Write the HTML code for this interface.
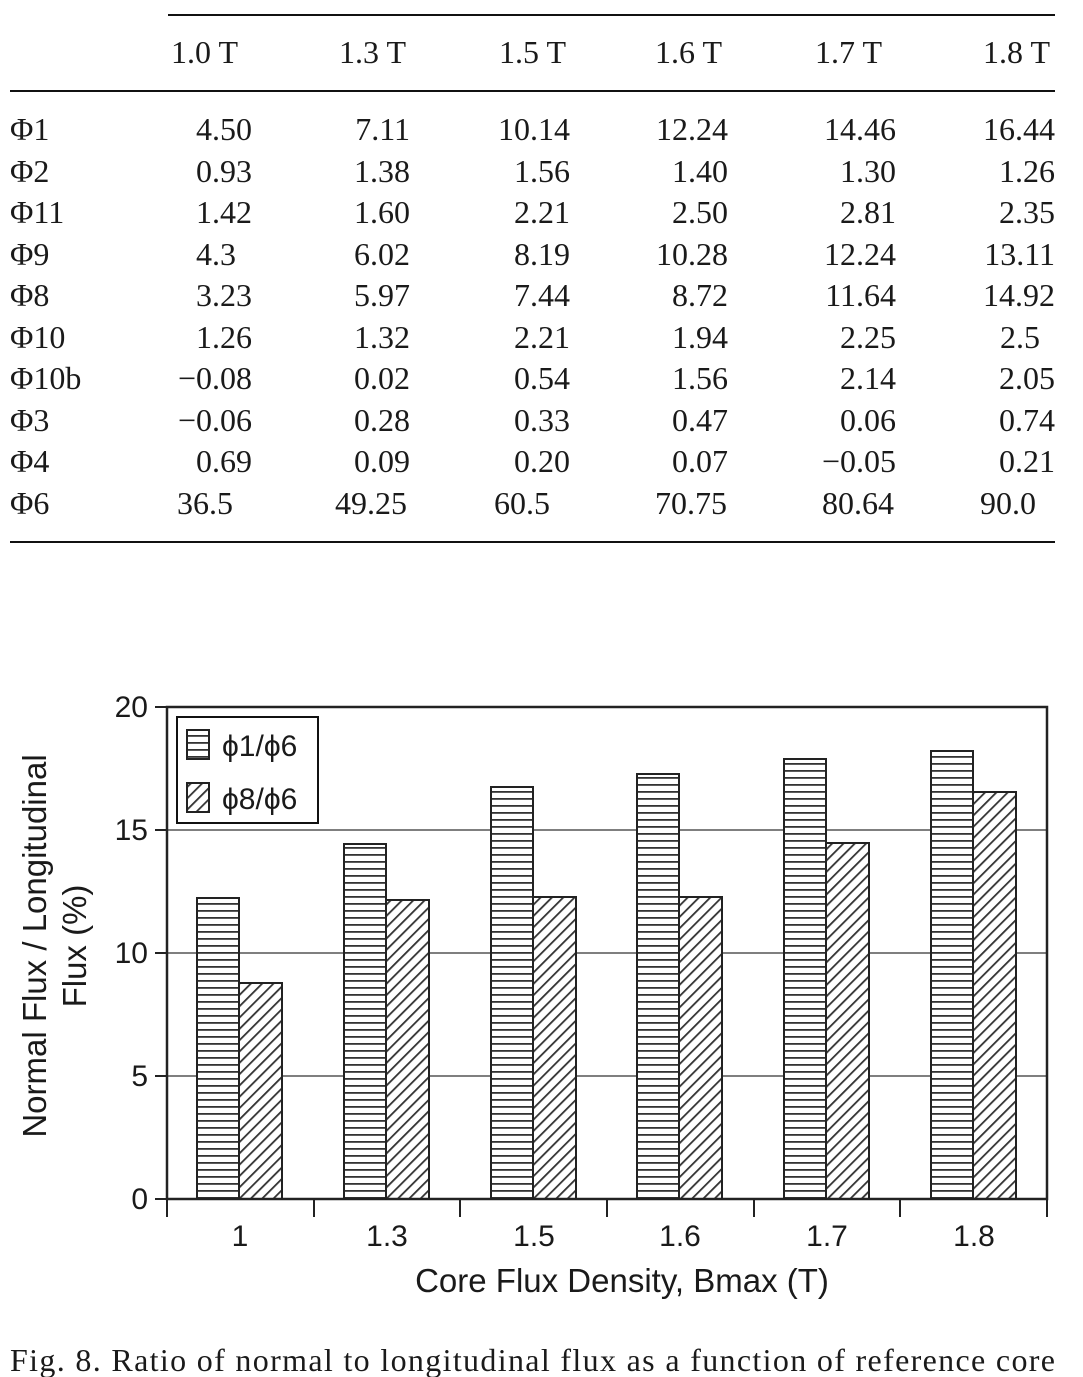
<!DOCTYPE html>
<html><head><meta charset="utf-8"><style>body{margin:0;background:#fff}svg{display:block}</style></head>
<body>
<svg width="1083" height="1377" viewBox="0 0 1083 1377" xmlns="http://www.w3.org/2000/svg">
<defs>
<pattern id="hz" width="7" height="7" patternUnits="userSpaceOnUse"><rect width="7" height="7" fill="#fff"/><rect y="0" width="7" height="1.8" fill="#333"/></pattern>
<pattern id="dg" width="8" height="8" patternUnits="userSpaceOnUse" patternTransform="rotate(45)"><rect width="8" height="8" fill="#fff"/><rect x="0" width="1.8" height="8" fill="#333"/></pattern>
</defs>
<g font-family="Liberation Serif, serif" font-size="32" fill="#1a1a1a">
<line x1="168" y1="15" x2="1055" y2="15" stroke="#111" stroke-width="2"/>
<line x1="10" y1="91" x2="1055" y2="91" stroke="#111" stroke-width="2"/>
<line x1="10" y1="542" x2="1055" y2="542" stroke="#111" stroke-width="2"/>
<g text-anchor="end">
<text x="238" y="63">1.0 T</text><text x="406" y="63">1.3 T</text><text x="566" y="63">1.5 T</text><text x="722" y="63">1.6 T</text><text x="882" y="63">1.7 T</text><text x="1050" y="63">1.8 T</text>
</g>
<g>
<text x="10" y="140">Φ1</text><text x="10" y="182">Φ2</text><text x="10" y="223">Φ11</text><text x="10" y="265">Φ9</text><text x="10" y="306">Φ8</text><text x="10" y="348">Φ10</text><text x="10" y="389">Φ10b</text><text x="10" y="431">Φ3</text><text x="10" y="472">Φ4</text><text x="10" y="514">Φ6</text>
</g>
<g text-anchor="end">
<text x="252" y="140">4.50</text><text x="410" y="140">7.11</text><text x="570" y="140">10.14</text><text x="728" y="140">12.24</text><text x="896" y="140">14.46</text><text x="1055" y="140">16.44</text>
<text x="252" y="182">0.93</text><text x="410" y="182">1.38</text><text x="570" y="182">1.56</text><text x="728" y="182">1.40</text><text x="896" y="182">1.30</text><text x="1055" y="182">1.26</text>
<text x="252" y="223">1.42</text><text x="410" y="223">1.60</text><text x="570" y="223">2.21</text><text x="728" y="223">2.50</text><text x="896" y="223">2.81</text><text x="1055" y="223">2.35</text>
<text x="236" y="265">4.3</text><text x="410" y="265">6.02</text><text x="570" y="265">8.19</text><text x="728" y="265">10.28</text><text x="896" y="265">12.24</text><text x="1055" y="265">13.11</text>
<text x="252" y="306">3.23</text><text x="410" y="306">5.97</text><text x="570" y="306">7.44</text><text x="728" y="306">8.72</text><text x="896" y="306">11.64</text><text x="1055" y="306">14.92</text>
<text x="252" y="348">1.26</text><text x="410" y="348">1.32</text><text x="570" y="348">2.21</text><text x="728" y="348">1.94</text><text x="896" y="348">2.25</text><text x="1040" y="348">2.5</text>
<text x="252" y="389">−0.08</text><text x="410" y="389">0.02</text><text x="570" y="389">0.54</text><text x="728" y="389">1.56</text><text x="896" y="389">2.14</text><text x="1055" y="389">2.05</text>
<text x="252" y="431">−0.06</text><text x="410" y="431">0.28</text><text x="570" y="431">0.33</text><text x="728" y="431">0.47</text><text x="896" y="431">0.06</text><text x="1055" y="431">0.74</text>
<text x="252" y="472">0.69</text><text x="410" y="472">0.09</text><text x="570" y="472">0.20</text><text x="728" y="472">0.07</text><text x="896" y="472">−0.05</text><text x="1055" y="472">0.21</text>
</g>
<text x="177" y="514">36.5</text><text x="335" y="514">49.25</text><text x="494" y="514">60.5</text><text x="655" y="514">70.75</text><text x="822" y="514">80.64</text><text x="980" y="514">90.0</text>
<text x="10" y="1371" textLength="1045" lengthAdjust="spacing">Fig. 8.  Ratio of normal to longitudinal flux as a function of reference core</text>
</g>
<g stroke="#555" stroke-width="1.5">
<line x1="167" y1="830" x2="1047" y2="830"/><line x1="167" y1="953" x2="1047" y2="953"/><line x1="167" y1="1076" x2="1047" y2="1076"/>
</g>
<g stroke="#222" stroke-width="2">
<rect x="197" y="898" width="42" height="301" fill="url(#hz)"/><rect x="239" y="983" width="43" height="216" fill="url(#dg)"/>
<rect x="344" y="844" width="42" height="355" fill="url(#hz)"/><rect x="386" y="900" width="43" height="299" fill="url(#dg)"/>
<rect x="491" y="787" width="42" height="412" fill="url(#hz)"/><rect x="533" y="897" width="43" height="302" fill="url(#dg)"/>
<rect x="637" y="774" width="42" height="425" fill="url(#hz)"/><rect x="679" y="897" width="43" height="302" fill="url(#dg)"/>
<rect x="784" y="759" width="42" height="440" fill="url(#hz)"/><rect x="826" y="843" width="43" height="356" fill="url(#dg)"/>
<rect x="931" y="751" width="42" height="448" fill="url(#hz)"/><rect x="973" y="792" width="43" height="407" fill="url(#dg)"/>
</g>
<rect x="167" y="707" width="880" height="492" fill="none" stroke="#222" stroke-width="2.5"/>
<g stroke="#222" stroke-width="2">
<line x1="155" y1="707" x2="167" y2="707"/><line x1="155" y1="830" x2="167" y2="830"/><line x1="155" y1="953" x2="167" y2="953"/><line x1="155" y1="1076" x2="167" y2="1076"/><line x1="155" y1="1199" x2="167" y2="1199"/>
<line x1="167" y1="1199" x2="167" y2="1217"/><line x1="314" y1="1199" x2="314" y2="1217"/><line x1="460" y1="1199" x2="460" y2="1217"/><line x1="607" y1="1199" x2="607" y2="1217"/><line x1="754" y1="1199" x2="754" y2="1217"/><line x1="900" y1="1199" x2="900" y2="1217"/><line x1="1047" y1="1199" x2="1047" y2="1217"/>
</g>
<rect x="177" y="717" width="141" height="106" fill="#fff" stroke="#111" stroke-width="2"/>
<rect x="187" y="730" width="22" height="29" fill="url(#hz)" stroke="#222" stroke-width="2"/>
<rect x="187" y="783" width="22" height="29" fill="url(#dg)" stroke="#222" stroke-width="2"/>
<g font-family="Liberation Sans, sans-serif" font-size="30" fill="#1a1a1a">
<text x="222" y="756">ϕ1/ϕ6</text><text x="222" y="809">ϕ8/ϕ6</text>
<g text-anchor="end"><text x="148" y="717">20</text><text x="148" y="840">15</text><text x="148" y="963">10</text><text x="148" y="1086">5</text><text x="148" y="1209">0</text></g>
<g text-anchor="middle"><text x="240" y="1246">1</text><text x="387" y="1246">1.3</text><text x="534" y="1246">1.5</text><text x="680" y="1246">1.6</text><text x="827" y="1246">1.7</text><text x="974" y="1246">1.8</text>
<text x="622" y="1292" font-size="33">Core Flux Density, Bmax (T)</text>
<g transform="translate(46,946) rotate(-90)" font-size="33"><text x="0" y="0">Normal Flux / Longitudinal</text><text x="0" y="40">Flux (%)</text></g>
</g>
</g>
</svg>
</body></html>
